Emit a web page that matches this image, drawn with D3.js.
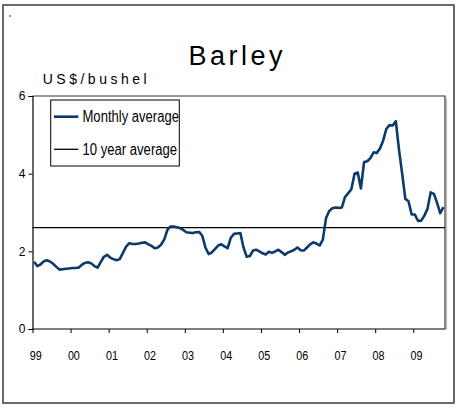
<!DOCTYPE html>
<html><head><meta charset="utf-8">
<script src="https://cdn.jsdelivr.net/npm/d3@7"></script>
<style>body{margin:0;background:#fff}svg{display:block}</style>
</head><body>
<script>
const years = ["99","00","01","02","03","04","05","06","07","08","09"];
const monthlyAverage = [
 1.73,1.62,1.66,1.74,1.77,1.74,1.68,1.60,1.53,1.54,1.55,1.56,
 1.57,1.57,1.58,1.65,1.70,1.72,1.69,1.62,1.58,1.72,1.86,1.91,
 1.84,1.80,1.77,1.80,1.96,2.12,2.21,2.19,2.19,2.20,2.22,2.23,
 2.18,2.14,2.08,2.10,2.17,2.30,2.55,2.64,2.64,2.62,2.60,2.55,
 2.49,2.48,2.47,2.49,2.50,2.40,2.10,1.93,1.97,2.06,2.15,2.18,
 2.13,2.08,2.35,2.45,2.46,2.47,2.10,1.86,1.88,2.02,2.04,2.00,
 1.95,1.92,1.99,1.96,2.00,2.04,1.98,1.91,1.97,2.00,2.04,2.10,
 2.03,2.02,2.10,2.18,2.23,2.20,2.15,2.30,2.85,3.04,3.11,3.13,
 3.12,3.13,3.40,3.50,3.60,4.00,4.03,3.62,4.30,4.32,4.40,4.55,
 4.53,4.65,4.85,5.15,5.25,5.24,5.35,4.62,4.00,3.35,3.29,2.95,
 2.95,2.78,2.79,2.92,3.10,3.52,3.48,3.25,2.98,3.14
];
const tenYearAverage = 2.61;
const yTicks = [0,2,4,6];
const seriesNames = ["Monthly average","10 year average"];

const W=457,H=408;
const svg=d3.select("body").append("svg").attr("width",W).attr("height",H);
const L=32.5,R=445,T=96,B=329;
const nCat=130;
const x=d3.scaleLinear().domain([0,nCat]).range([L,R]);
const y=d3.scaleLinear().domain([0,6]).range([B,T]);

// outer border
svg.append("rect").attr("x",3).attr("y",5).attr("width",451).attr("height",398)
  .attr("fill","none").attr("stroke","#3a3a3a").attr("stroke-width",1.5);
svg.append("rect").attr("x",9).attr("y",15).attr("width",2).attr("height",2).attr("fill","#999");

// title
svg.append("text").attr("x",188.5).attr("y",65).attr("font-family","Liberation Sans, Arial, sans-serif")
  .attr("font-size",27).attr("textLength",94).attr("lengthAdjust","spacing").attr("fill","#000").text("Barley");
svg.append("text").attr("x",42.7).attr("y",84).attr("font-family","Liberation Sans, Arial, sans-serif")
  .attr("font-size",14).attr("textLength",104).attr("lengthAdjust","spacing").attr("fill","#000").text("US$/bushel");

// plot border (top, right)
svg.append("path").attr("d",`M${L},${T}H${R}V${B}`).attr("fill","none").attr("stroke","#333").attr("stroke-width",1.2);
svg.append("line").attr("x1",R+1.5).attr("x2",R+1.5).attr("y1",T+2).attr("y2",B+1).attr("stroke","#bbb").attr("stroke-width",1.2);

// y axis
const yAxis=d3.axisLeft(y).tickValues(yTicks).tickSize(4).tickFormat(d3.format("d"));
const gy=svg.append("g").attr("transform",`translate(${L},0)`).call(yAxis);
gy.select(".domain").attr("stroke","#000").attr("stroke-width",1.2);
gy.selectAll(".tick line").attr("stroke","#000");
gy.selectAll(".tick text").attr("font-family","Liberation Sans, Arial, sans-serif").attr("font-size",12).attr("fill","#000").attr("x",-7);

// x axis
const xTickVals=years.map((d,i)=>i*12);
const xAxis=d3.axisBottom(x).tickValues(xTickVals).tickSize(4).tickFormat("");
const gx=svg.append("g").attr("transform",`translate(0,${B})`).call(xAxis);
gx.select(".domain").attr("stroke","#000").attr("stroke-width",1.2).attr("d",`M${L},0H${R}`);
gx.selectAll(".tick line").attr("stroke","#000");
svg.append("g").selectAll("text").data(years).join("text")
  .attr("x",(d,i)=>x(i*12)+3.3).attr("y",360).attr("text-anchor","middle")
  .attr("font-family","Liberation Sans Narrow, Arial Narrow, Liberation Sans, sans-serif")
  .attr("font-size",12.5).attr("textLength",12).attr("lengthAdjust","spacingAndGlyphs")
  .attr("fill","#000").text(d=>d);

// 10 year average
svg.append("line").attr("x1",L).attr("x2",R).attr("y1",y(tenYearAverage)).attr("y2",y(tenYearAverage))
  .attr("stroke","#000").attr("stroke-width",1.3);

// monthly line
const line=d3.line().x((d,i)=>x(i+0.5)).y(d=>y(d));
svg.append("path").datum(monthlyAverage).attr("d",line).attr("fill","none")
  .attr("stroke","#0b3a6c").attr("stroke-width",2.6).attr("stroke-linejoin","round");

// legend
const lg=svg.append("g");
lg.append("rect").attr("x",50.7).attr("y",100).attr("width",128.6).attr("height",66)
  .attr("fill","#fff").attr("stroke","#000").attr("stroke-width",1);
const lys=[116.7,149.3];
lg.append("line").attr("x1",54).attr("x2",78.3).attr("y1",lys[0]).attr("y2",lys[0]).attr("stroke","#0b3a6c").attr("stroke-width",2.6);
lg.append("line").attr("x1",54).attr("x2",78.3).attr("y1",lys[1]).attr("y2",lys[1]).attr("stroke","#000").attr("stroke-width",1.3);
const widths=[96.5,94.6];
lg.selectAll("text.l").data(seriesNames).join("text").attr("class","l")
  .attr("x",82.5).attr("y",(d,i)=>lys[i]+5.5)
  .attr("font-family","Liberation Sans Narrow, Arial Narrow, Liberation Sans, sans-serif")
  .attr("font-size",16).attr("textLength",(d,i)=>widths[i]).attr("lengthAdjust","spacingAndGlyphs")
  .attr("fill","#000").text(d=>d);
</script>
</body></html>
